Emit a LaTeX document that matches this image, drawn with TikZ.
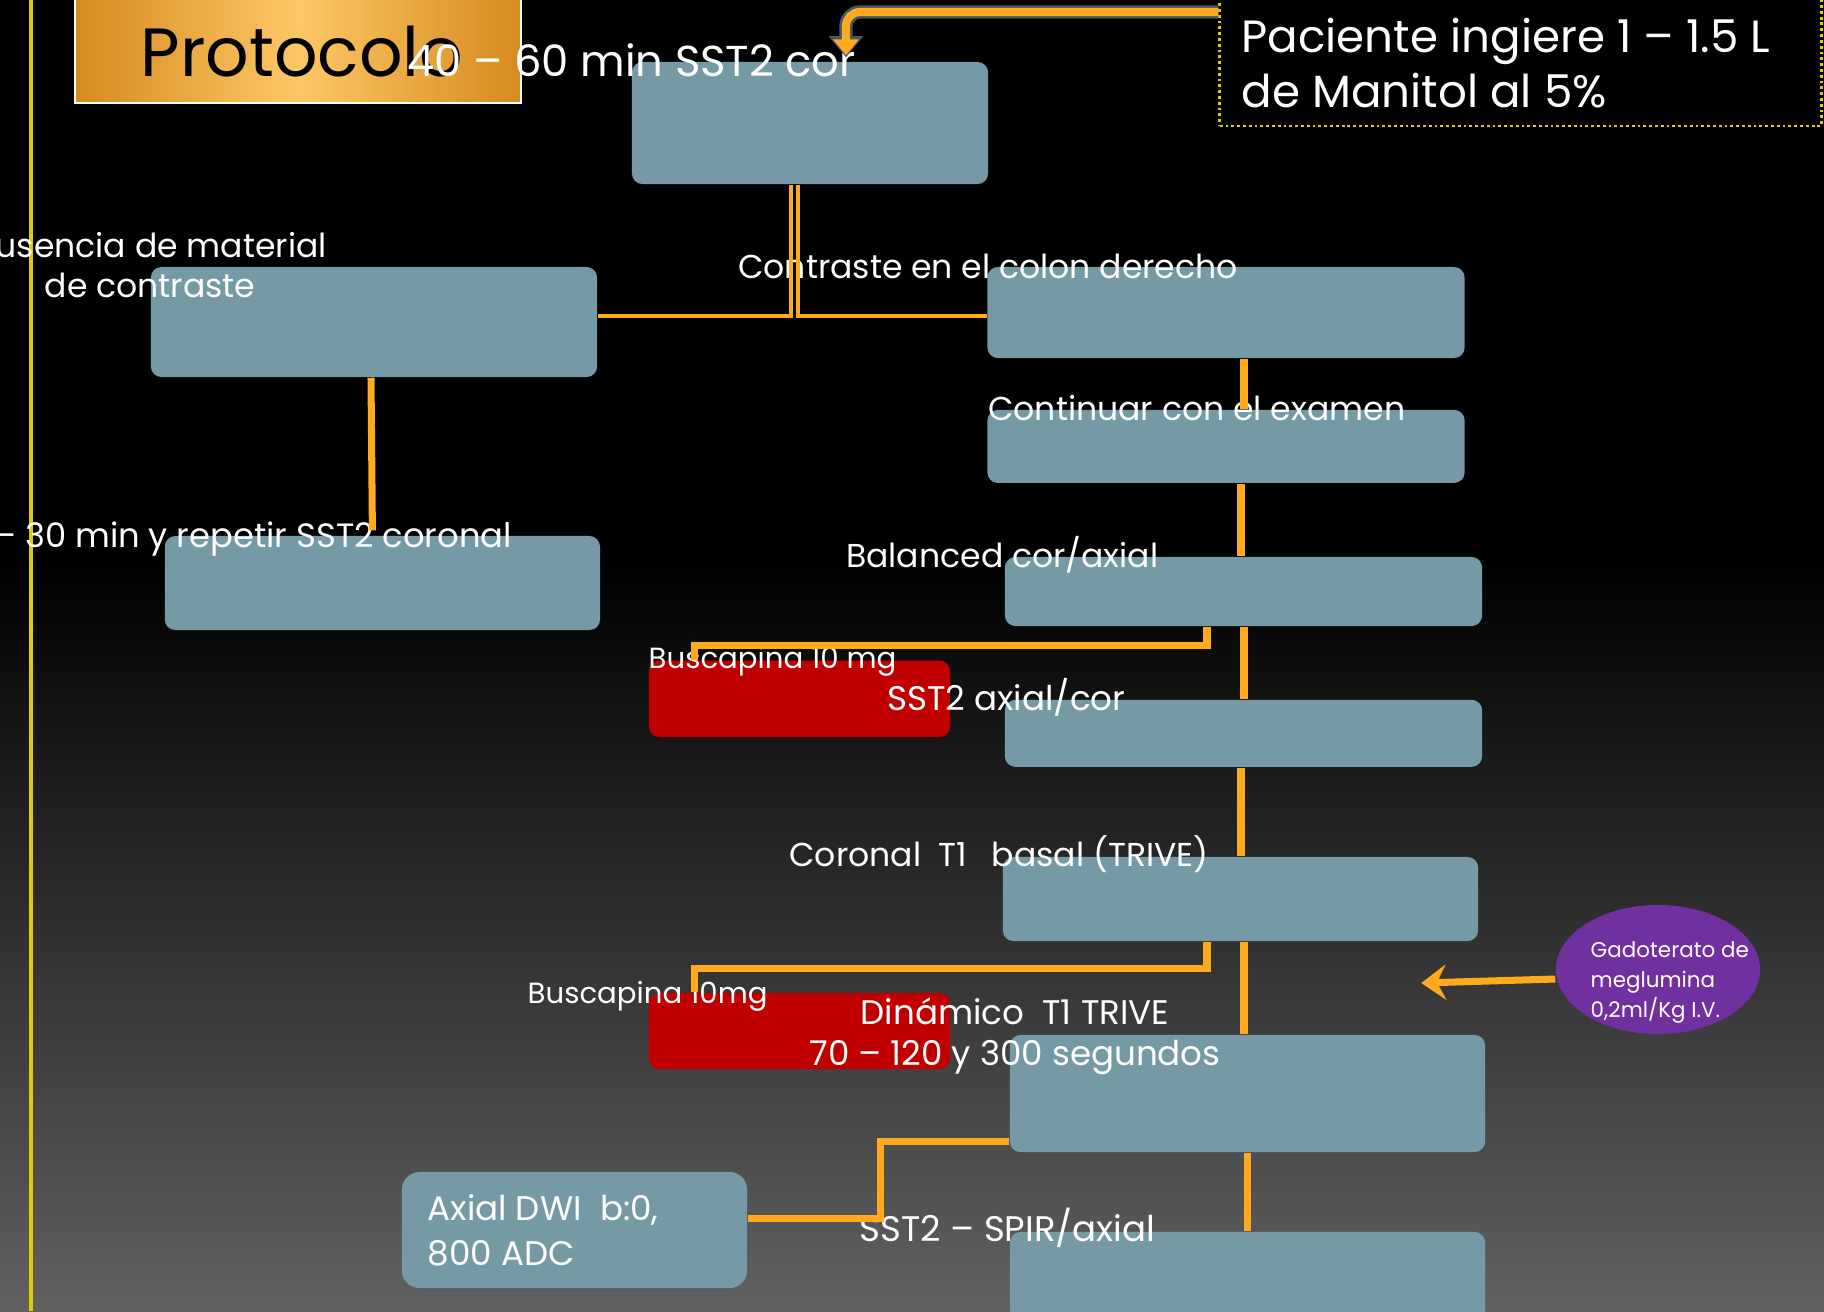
\documentclass[tikz,border=0pt]{standalone}
\usepackage{fontspec}
\setmainfont{Poppins}
\usetikzlibrary{calc,arrows.meta,shapes.geometric}

\definecolor{cajaazul}{RGB}{118,154,165}
\definecolor{naranja}{RGB}{255,169,31}
\definecolor{rojo}{RGB}{192,0,0}
\definecolor{morado}{RGB}{112,48,160}
\definecolor{amarillo}{RGB}{222,206,0}
\definecolor{oro1}{RGB}{214,138,30}
\definecolor{oro2}{RGB}{253,199,102}
\definecolor{fondo}{RGB}{97,97,97}
\definecolor{borde}{RGB}{70,88,100}

\begin{document}
\begin{tikzpicture}[x=0.01cm,y=-0.01cm,
  caja/.style={fill=cajaazul,rounded corners=3pt,inner sep=0pt},
  rojocaja/.style={fill=rojo,rounded corners=3pt,inner sep=0pt},
  txt/.style={text=white,inner sep=0pt,font=\fontsize{9.4}{11.1}\selectfont},
  linea/.style={naranja,line width=1.3pt},
  gruesa/.style={naranja,line width=2pt}]

\useasboundingbox (0,0) rectangle (1824,1311);

%fondo
\fill[black] (0,0) rectangle (1824,560);
\shade[top color=black,bottom color=fondo] (0,559) rectangle (1824,1311);
\draw[amarillo,line width=1pt] (31,0) -- (31,1311);

%titulo
\node[draw=white,line width=0.6pt,left color=oro1,right color=oro1,middle color=oro2,
  minimum width=4.45cm,minimum height=1.10cm,inner sep=0pt] (protocolo) at (298,48) {};
\node[anchor=base west,inner sep=0pt,font=\fontsize{19.4}{24}\selectfont] (protocolotxt) at (140,76) {Protocolo};
\node[draw=amarillo,line width=0.8pt,dash pattern=on 0.8pt off 0.85pt,
  minimum width=6.01cm,minimum height=1.36cm,inner sep=0pt] (paciente) at (1520.5,58) {};

%cajas
\node[caja,minimum width=3.56cm,minimum height=1.22cm] (sstcor) at (810,123) {};
\node[caja,minimum width=4.46cm,minimum height=1.10cm] (ausencia) at (374,322) {};
\node[caja,minimum width=4.77cm,minimum height=0.91cm] (colon) at (1226,312.5) {};
\node[caja,minimum width=4.35cm,minimum height=0.94cm] (repetir) at (382.4,583) {};
\node[caja,minimum width=4.77cm,minimum height=0.73cm] (continuar) at (1226,446.4) {};
\node[caja,minimum width=4.77cm,minimum height=0.69cm] (balanced) at (1243.5,591.5) {};
\node[caja,minimum width=4.77cm,minimum height=0.67cm] (sstaxial) at (1243.5,733.3) {};
\node[caja,minimum width=4.75cm,minimum height=0.84cm] (coronal) at (1240.5,899) {};
\node[caja,minimum width=4.75cm,minimum height=1.17cm] (dinamico) at (1247.5,1093.5) {};
\node[caja,minimum width=4.75cm,minimum height=1.08cm] (spir) at (1247.5,1286) {};
\node[caja,rounded corners=5pt,minimum width=3.45cm,minimum height=1.16cm] (dwi) at (574.5,1230) {};
\node[rojocaja,minimum width=3.01cm,minimum height=0.765cm] (busc1) at (799.5,698.8) {};
\node[rojocaja,minimum width=3.01cm,minimum height=0.76cm] (busc2) at (799.5,1031) {};
\node[ellipse,fill=morado,inner sep=0pt,minimum width=2.04cm,minimum height=1.29cm] (gado) at (1658,969.5) {};

%textos
\node[txt,anchor=base west,font=\fontsize{12.3}{14}\selectfont] (sstcortxt) at (407,76) {40 – 60 min SST2 cor};
\node[txt,anchor=base west,align=left,font=\fontsize{12.85}{15.6}\selectfont] (pacientetxt) at (1241,107) {Paciente ingiere 1 – 1.5 L\\de Manitol al 5\%};
\node[txt,anchor=base,align=center] (ausenciatxt) at (150,297) {Ausencia de material\\de contraste};
\node[txt,anchor=base west] (colontxt) at (737.5,278) {Contraste en el colon derecho};
\node[txt,anchor=base east,font=\fontsize{9.6}{11}\selectfont] (repetirtxt) at (512.5,547) {– 30 min y repetir SST2 coronal};
\node[txt,anchor=base west] (continuartxt) at (987.6,420) {Continuar con el examen};
\node[txt,anchor=base east] (balancedtxt) at (1159,567) {Balanced cor/axial};
\node[txt,anchor=base east,font=\fontsize{9.7}{11}\selectfont] (sstaxialtxt) at (1126,710) {SST2 axial/cor};
\node[txt,anchor=base west,font=\fontsize{8.3}{10}\selectfont] (busc1txt) at (648,668) {Buscapina 10 mg};
\node[txt,anchor=base west] (coronaltxt) at (788.7,866.7) {Coronal~ T1~\hspace{2pt} basal (TRIVE)};
\node[txt,anchor=base,align=center,font=\fontsize{9.7}{11.4}\selectfont] (dinamicotxt) at (1015,1065) {Dinámico~ T1 TRIVE\\70 – 120 y 300 segundos};
\node[txt,anchor=base west,font=\fontsize{8.3}{10}\selectfont] (busc2txt) at (527,1003) {Buscapina 10mg};
\node[txt,anchor=base west,align=left,font=\fontsize{6.1}{8.4}\selectfont] (gadotxt) at (1590,1017) {Gadoterato de\\meglumina\\0,2ml/Kg I.V.};
\node[txt,anchor=base east,font=\fontsize{10.1}{12}\selectfont] (spirtxt) at (1156,1241.7) {SST2 – SPIR/axial};
\node[txt,anchor=base west,align=left,font=\fontsize{9.7}{12.8}\selectfont] (dwitxt) at (427,1265) {Axial DWI~ b:0,\\800 ADC};

%flecha del manitol
\draw[borde,line width=3.8pt,rounded corners=4pt,-{Triangle[length=6pt,width=9.5pt]}]
  ($(paciente.west)+(0,-46)$) -| ($(sstcor.north)+(36,-4)$);
\draw[naranja,line width=2.3pt,rounded corners=4pt,-{Triangle[length=4.5pt,width=7pt]}]
  ($(paciente.west)+(0,-46)$) -| ($(sstcor.north)+(36,-6)$);

%conectores
\draw[linea] ($(sstcor.south)+(-19,0)$) |- ($(ausencia.east)+(0,-6)$);
\draw[linea] ($(sstcor.south)+(-12,0)$) |- ($(colon.west)+(0,3.5)$);
\draw[gruesa] ($(ausencia.south)+(-3,0)$) -- ($(repetir.north)+(-10,-5)$);
\draw[gruesa] ($(colon.south)+(18,0)$) -- ($(continuar.north)+(18,0)$);
\draw[gruesa] ($(continuar.south)+(15,0)$) -- ($(balanced.north)+(-2.5,0)$);
\draw[gruesa] ($(balanced.south)+(0.5,0)$) -- ($(sstaxial.north)+(0.5,0)$);
\draw[gruesa] ($(sstaxial.south)+(-2.5,0)$) -- ($(coronal.north)+(0.5,0)$);
\draw[gruesa] ($(coronal.south)+(3.5,0)$) -- ($(dinamico.north)+(-3.5,0)$);
\draw[gruesa] (dinamico.south) -- (spir.north);

\draw[gruesa] ($(balanced.south)+(-36.5,0)$) -- ++(0,19) -| ($(busc1.north west)+(46,0)$);
\draw[gruesa] ($(coronal.south)+(-33.5,0)$) -- ++(0,27) -| ($(busc2.north west)+(46,0)$);
\draw[gruesa] ($(dwi.east)+(0,-12)$) -- ++(133,0) |- ($(dinamico.west)+(0,48)$);
\draw[gruesa,-{Stealth[length=7pt,width=10pt,inset=2.5pt]}] ($(gado.west)+(0,9.5)$) -- ++(-134,4);

\end{tikzpicture}
\end{document}
